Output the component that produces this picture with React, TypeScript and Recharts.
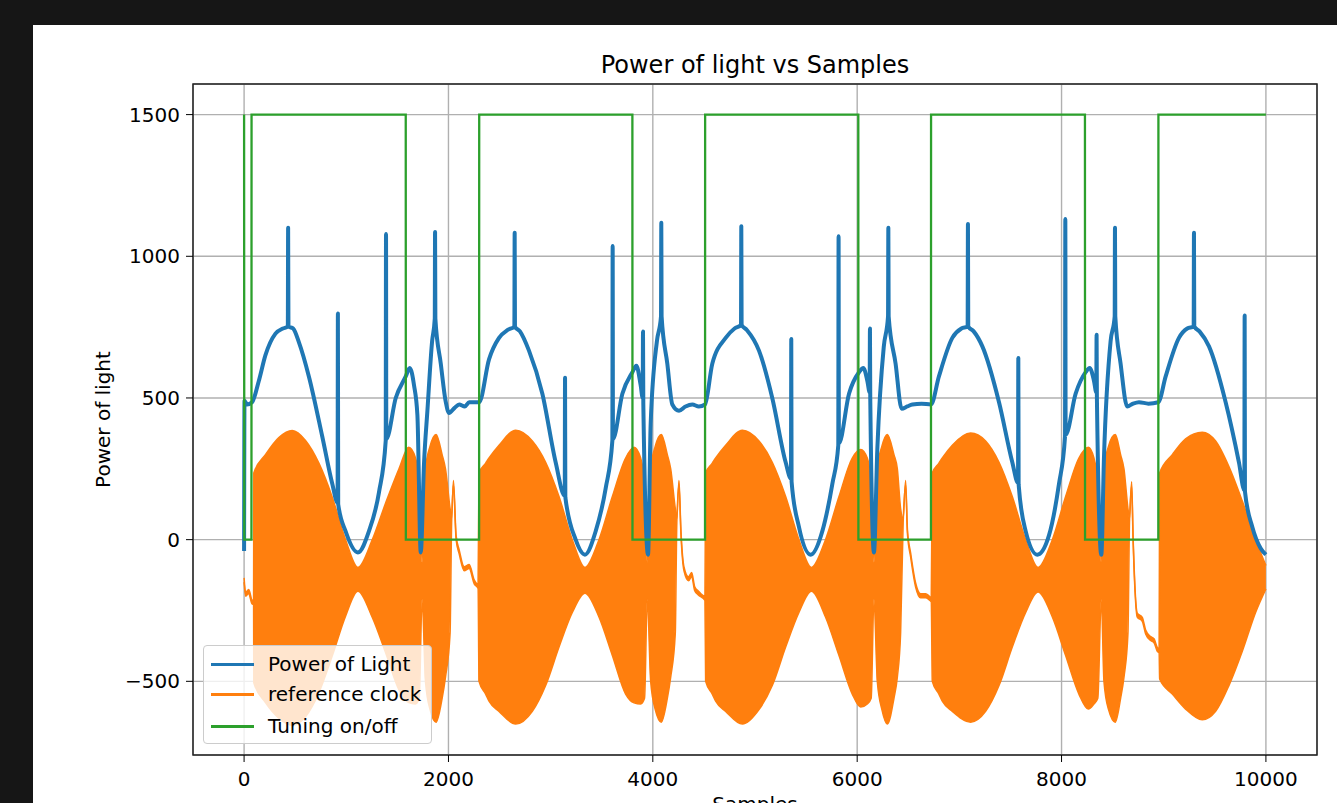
import { Area, CartesianGrid, ComposedChart, Line, ReferenceArea, XAxis, YAxis } from "recharts";

// values
const xTicks = [0, 2000, 4000, 6000, 8000, 10000];
const yTicks = [-500, 0, 500, 1000, 1500];

// [sample, power]
const lightPoints: [number, number][] = [
  [0, -40], [4, 490], [29, 477], [78, 485], [144, 560], [209, 651], [307, 727], [380, 745], [428, 752], [431, 1101], [434, 752],
  [480, 745], [536, 697], [634, 576], [765, 364], [863, 197], [915, 130], [918, 798], [921, 125], [993, 30], [1114, -45],
  [1222, 30], [1320, 167], [1386, 349], [1389, 1079], [1392, 355], [1484, 500], [1582, 576], [1621, 606], [1663, 545],
  [1696, 440], [1729, -45], [1761, 270], [1794, 455], [1840, 700], [1866, 780], [1869, 1086], [1872, 780], [1925, 621],
  [1974, 485], [2006, 447], [2060, 465], [2105, 477], [2160, 470], [2203, 485], [2300, 485],
  [2397, 636], [2495, 712], [2580, 740], [2645, 752], [2648, 1083], [2651, 752], [2700, 735], [2788, 667], [2919, 515],
  [3049, 273], [3138, 155], [3141, 571], [3144, 150], [3245, 0], [3336, -53], [3441, 30], [3539, 182], [3604, 349],
  [3607, 1036], [3610, 355], [3702, 515], [3800, 591], [3839, 614], [3881, 545], [3901, 500], [3904, 735], [3907, 480],
  [3953, -53], [3979, 409], [4040, 700], [4080, 788], [4083, 1118], [4086, 788], [4142, 621], [4191, 477], [4256, 455],
  [4320, 470], [4387, 477], [4450, 470], [4511, 477],
  [4582, 621], [4713, 712], [4800, 745], [4863, 758], [4866, 1106], [4869, 758], [4920, 740], [5039, 667], [5169, 500],
  [5300, 273], [5352, 215], [5355, 708], [5358, 205], [5430, 45], [5545, -53], [5659, 30], [5757, 197], [5815, 333],
  [5818, 1071], [5821, 340], [5920, 515], [6018, 591], [6060, 606], [6099, 561], [6122, 520], [6125, 745], [6128, 500],
  [6164, -45], [6197, 318], [6260, 680], [6302, 788], [6305, 1101], [6308, 788], [6376, 621], [6435, 462], [6490, 470],
  [6540, 477], [6630, 480], [6722, 477],
  [6800, 576], [6931, 712], [7020, 745], [7081, 752], [7084, 1114], [7087, 752], [7140, 735], [7225, 682], [7388, 485],
  [7518, 273], [7574, 200], [7577, 641], [7580, 195], [7649, 30], [7763, -53], [7877, 15], [7975, 197], [8034, 364],
  [8037, 1132], [8040, 370], [8138, 515], [8236, 591], [8275, 606], [8317, 561], [8340, 520], [8343, 723], [8346, 500],
  [8389, -53], [8415, 288], [8480, 700], [8520, 788], [8523, 1101], [8526, 788], [8578, 621], [8643, 470], [8700, 480],
  [8758, 485], [8850, 480], [8947, 485],
  [9019, 576], [9149, 712], [9230, 745], [9293, 752], [9296, 1083], [9299, 752], [9350, 735], [9443, 682], [9606, 485],
  [9736, 273], [9789, 175], [9792, 791], [9795, 170], [9867, 45], [9948, -30], [10000, -53],
];

// [sample, lower envelope, upper envelope] of the reference clock
const clockBand: [number, number, number][] = [
  [0, -150, -135], [15, -200, -186], [45, -190, -176], [80, -228, -214], [93, -225, -211],
  [95, -505, 235], [209, -575, 300], [340, -630, 360], [471, -655, 385], [601, -625, 350], [732, -540, 270],
  [863, -410, 150], [993, -270, 0], [1114, -182, -98], [1255, -275, 0], [1386, -400, 130], [1516, -530, 250],
  [1611, -575, 326], [1676, -580, 290], [1714, -560, 200], [1742, -210, -80], [1775, -500, 250], [1820, -600, 330],
  [1879, -644, 371], [1938, -560, 300], [1971, -485, 250], [2016, -330, 110],
  [2031, 60, 74], [2049, 195, 209], [2075, 0, 14], [2105, -50, -36], [2154, -110, -96], [2203, -102, -88],
  [2252, -156, -142], [2290, -172, -158],
  [2299, -500, 235], [2364, -545, 270], [2397, -570, 288], [2495, -606, 333], [2658, -651, 386], [2821, -606, 348],
  [2951, -515, 273], [3082, -379, 152], [3212, -257, 0], [3336, -189, -98], [3473, -273, 0], [3604, -409, 152],
  [3734, -545, 288], [3816, -576, 326], [3881, -580, 288], [3919, -560, 200], [3946, -210, -80], [3979, -500, 250],
  [4024, -600, 330], [4083, -644, 371], [4142, -560, 300], [4175, -485, 250], [4220, -330, 110],
  [4235, 60, 74], [4256, 195, 209], [4275, 20, 34], [4305, -110, -96], [4350, -145, -131], [4380, -130, -116],
  [4410, -180, -166], [4445, -195, -181], [4510, -214, -200],
  [4517, -500, 235], [4582, -545, 270], [4615, -570, 288], [4713, -606, 333], [4876, -651, 386], [5039, -600, 348],
  [5169, -515, 273], [5300, -379, 152], [5430, -257, 0], [5552, -182, -98], [5690, -273, 0], [5822, -409, 152],
  [5952, -545, 288], [6034, -591, 318], [6099, -580, 288], [6137, -560, 200], [6164, -210, -80], [6197, -500, 250],
  [6242, -600, 330], [6295, -651, 371], [6360, -560, 300], [6393, -485, 250], [6425, -330, 110],
  [6450, 60, 74], [6474, 195, 209], [6492, 20, 34], [6523, -61, -47], [6572, -167, -153], [6620, -205, -191],
  [6670, -205, -191], [6702, -212, -198], [6725, -220, -206],
  [6735, -500, 235], [6800, -545, 270], [6833, -570, 288], [6931, -606, 333], [7110, -644, 376], [7257, -606, 348],
  [7388, -515, 273], [7518, -379, 152], [7649, -257, 0], [7770, -185, -98], [7910, -273, 0], [8040, -409, 152],
  [8170, -545, 288], [8262, -598, 326], [8317, -580, 288], [8355, -560, 200], [8389, -210, -80], [8415, -500, 250],
  [8460, -600, 330], [8526, -644, 371], [8578, -560, 300], [8611, -485, 250], [8650, -330, 110],
  [8665, 60, 74], [8686, 190, 204], [8700, 0, 14], [8741, -273, -259], [8790, -288, -274], [8823, -333, -319],
  [8872, -356, -342], [8905, -364, -350], [8937, -394, -380], [8955, -400, -386],
  [8960, -492, 235], [9084, -545, 300], [9214, -598, 356], [9377, -636, 379], [9508, -606, 348], [9638, -515, 258],
  [9769, -394, 136], [9899, -257, 0], [10000, -174, -91],
];

// [sample, tuning level]
const tuningPoints: [number, number][] = [
  [0, 1500], [2, 0], [72, 0], [73, 1500], [1582, 1500], [1583, 0], [2300, 0], [2301, 1500], [3800, 1500], [3801, 0],
  [4511, 0], [4512, 1500], [6011, 1500], [6012, 0], [6722, 0], [6723, 1500], [8229, 1500], [8230, 0], [8947, 0],
  [8948, 1500], [10000, 1500],
];

const BLUE = "#1f77b4";
const ORANGE = "#ff7f0e";
const GREEN = "#2ca02c";
const font = "'DejaVu Sans', sans-serif";
const tickStyle = { fontSize: 20, fill: "#000", fontFamily: font };

const lightData = lightPoints.map(([x, y]) => ({ x, y }));
const clockData = clockBand.map(([x, lo, hi]) => ({ x, band: [lo, hi] }));
const tuningData = tuningPoints.map(([x, y]) => ({ x, y }));

const legendItems = [
  { name: "Power of Light", color: BLUE, cy: 18 },
  { name: "reference clock", color: ORANGE, cy: 48.5 },
  { name: "Tuning on/off", color: GREEN, cy: 80 },
];

const fmt = (v: number) => String(v).replace("-", "\u2212");

export default function App() {
  return (
    <div style={{ position: "fixed", left: 0, top: 0, width: 1337, height: 803, overflow: "hidden", background: "#161616", fontFamily: font }}>
      <div style={{ position: "absolute", left: 33, top: 25, width: 1304, height: 820, background: "#fff" }}>
        <div style={{ position: "absolute", left: 160, width: 1124, top: 28, textAlign: "center", fontSize: 24, lineHeight: "24px", color: "#000" }}>
          Power of light vs Samples
        </div>
        <ComposedChart width={1304} height={820} margin={{ top: 59, right: 20, bottom: 0, left: 0 }}>
          <CartesianGrid stroke="#b0b0b0" strokeWidth={1.4} />
          <XAxis
            dataKey="x" type="number" domain={[-500, 10500]} ticks={xTicks} allowDataOverflow
            height={90} tick={tickStyle} tickSize={7} tickMargin={10} axisLine={false} tickLine={{ stroke: "#000" }}
            label={{ value: "Samples", position: "insideTop", offset: 42, style: { fontSize: 20, fontFamily: font, fill: "#000" } }}
          />
          <YAxis
            type="number" domain={[-760, 1608]} ticks={yTicks} allowDataOverflow width={160}
            tick={tickStyle} tickSize={7} tickMargin={6} axisLine={false} tickLine={{ stroke: "#000" }} tickFormatter={fmt}
            label={{ value: "Power of light", angle: -90, position: "insideLeft", offset: 70, style: { textAnchor: "middle", fontSize: 20, fontFamily: font, fill: "#000" } }}
          />
          <Line data={lightData} dataKey="y" type="monotoneX" stroke={BLUE} strokeWidth={4} strokeLinejoin="round" dot={false} activeDot={false} isAnimationActive={false} />
          <Area data={clockData} dataKey="band" type="monotoneX" fill={ORANGE} fillOpacity={1} stroke={ORANGE} strokeWidth={1.5} dot={false} activeDot={false} isAnimationActive={false} />
          <Line data={tuningData} dataKey="y" type="linear" stroke={GREEN} strokeWidth={2.3} dot={false} activeDot={false} isAnimationActive={false} />
          <ReferenceArea x1={-500} x2={10500} y1={-760} y2={1608} fill="none" stroke="#222" strokeWidth={1.5} />
        </ComposedChart>
        <div style={{ position: "absolute", left: 170, top: 620, width: 229, height: 99, boxSizing: "border-box", border: "1px solid #cccccc", borderRadius: 4, background: "rgba(255,255,255,0.8)" }}>
          {legendItems.map((it) => (
            <div key={it.name}>
              <div style={{ position: "absolute", left: 7, top: it.cy - 1.5, width: 43, height: 3, background: it.color }} />
              <div style={{ position: "absolute", left: 64, top: it.cy - 12.5, fontSize: 20, lineHeight: "24px", color: "#000", whiteSpace: "nowrap" }}>{it.name}</div>
            </div>
          ))}
        </div>
      </div>
    </div>
  );
}
